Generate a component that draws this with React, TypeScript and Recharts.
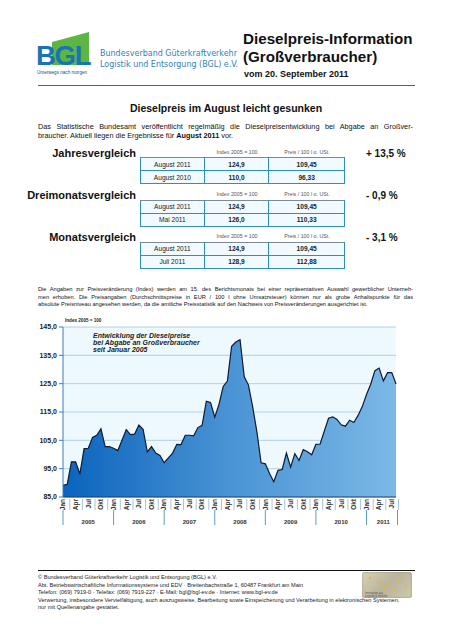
import { AreaChart, Area, XAxis, YAxis, CartesianGrid } from "recharts";

// Dieselpreis-Index (2005 = 100), monthly, Jan 2005 .. Aug 2011
const monthNames = ["Jan", "Feb", "Mär", "Apr", "Mai", "Jun", "Jul", "Aug", "Sep", "Okt", "Nov", "Dez"];
const years = [2005, 2006, 2007, 2008, 2009, 2010, 2011];
const idx2005 = [89.1, 89.5, 97.4, 97.4, 93.1, 102.1, 102.2, 106.0, 106.8, 109.1, 102.8, 102.8];
const idx2006 = [102.2, 101.4, 105.0, 108.8, 107.0, 107.2, 110.4, 108.9, 100.9, 102.8, 100.5, 99.7];
const idx2007 = [97.1, 98.8, 100.5, 103.6, 103.5, 106.8, 106.8, 106.6, 109.5, 110.3, 118.8, 118.4];
const idx2008 = [113.2, 117.7, 124.0, 125.9, 138.2, 139.7, 140.5, 127.4, 124.5, 116.8, 108.0, 97.1];
const idx2009 = [96.7, 93.3, 90.4, 94.4, 94.7, 100.5, 95.5, 100.3, 97.9, 101.7, 101.0, 99.9];
const idx2010 = [103.6, 103.7, 108.3, 112.8, 113.3, 112.4, 110.5, 110.0, 112.1, 111.3, 113.8, 116.9];
const idx2011 = [121.2, 124.8, 129.6, 130.5, 126.0, 128.9, 128.9, 124.9];
const yTicks = [85, 95, 105, 115, 125, 135, 145];

const allYears = [idx2005, idx2006, idx2007, idx2008, idx2009, idx2010, idx2011];

const data = allYears.flatMap((vals, y) =>
  vals.map((v, m) => ({ idx: y * 12 + m, year: years[y], month: m, label: monthNames[m], v }))
);

// tables
const compTitles = ["Jahresvergleich", "Dreimonatsvergleich", "Monatsvergleich"];
const compChanges = ["+ 13,5 %", "- 0,9 %", "- 3,1 %"];
const compRows = [
  [["August 2011", "124,9", "109,45"], ["August 2010", "110,0", "96,33"]],
  [["August 2011", "124,9", "109,45"], ["Mai 2011", "126,0", "110,33"]],
  [["August 2011", "124,9", "109,45"], ["Juli 2011", "128,9", "112,88"]],
];

const FONT = "'Liberation Sans', Arial, sans-serif";
const CHART_W = 452;
const CHART_H = 240;
const MARGIN = { top: 27, right: 56, bottom: 13, left: 0 };
const Y_W = 63;
const STEP = (CHART_W - MARGIN.right - MARGIN.left - Y_W) / (data.length - 1);

function MonthTick(props: any) {
  const { x, y, payload } = props;
  const d = data[payload.value];
  if (!d) return <g />;
  const yearCount = data.filter((p) => p.year === d.year).length;
  const isLast = payload.value === data.length - 1;
  return (
    <g>
      {d.month % 3 === 0 && (
        <>
          <text
            x={x + 2.3}
            y={y + 2}
            transform={`rotate(-90 ${x + 2.3} ${y + 2})`}
            textAnchor="end"
            fontSize={6.5}
            fontWeight="bold"
            fill="#333"
            fontFamily={FONT}
          >
            {d.label}
          </text>
          <line x1={x + STEP * 1.6} x2={x + STEP * 1.6} y1={y + 2} y2={y + 13} stroke="#8fb6d2" strokeWidth={0.8} />
        </>
      )}
      {d.month === 0 && (
        <line x1={x} x2={x} y1={y + 13} y2={y + 28} stroke="#4d8fc4" strokeWidth={0.9} />
      )}
      {isLast && (
        <line x1={x + 1.5} x2={x + 1.5} y1={y + 13} y2={y + 28} stroke="#4d8fc4" strokeWidth={0.9} />
      )}
      {d.month === Math.floor(yearCount / 2) && (
        <text x={x} y={y + 27} textAnchor="middle" fontSize={6} fontWeight="bold" fill="#333" fontFamily={FONT}>
          {d.year}
        </text>
      )}
    </g>
  );
}

function DieselChart() {
  return (
    <AreaChart width={CHART_W} height={CHART_H} data={data} margin={MARGIN}>
      <defs>
        <linearGradient id="areaFill" x1="0" y1="0" x2="1" y2="0">
          <stop offset="0%" stopColor="#0a64bd" />
          <stop offset="50%" stopColor="#4a93d4" />
          <stop offset="100%" stopColor="#7bb9e6" />
        </linearGradient>
      </defs>
      <CartesianGrid vertical={false} stroke="#a9cbe0" strokeWidth={0.9} fill="#eef9fe" />
      <XAxis
        dataKey="idx"
        type="category"
        interval={0}
        height={30}
        tickSize={0}
        tickMargin={0}
        tickLine={false}
        axisLine={{ stroke: "#1d3f6e", strokeWidth: 1 }}
        tick={<MonthTick />}
      />
      <YAxis
        width={Y_W}
        domain={[85, 145]}
        ticks={yTicks}
        allowDataOverflow
        tickSize={4}
        tickMargin={2}
        axisLine={{ stroke: "#3d7fb8" }}
        tickLine={{ stroke: "#3d7fb8" }}
        tickFormatter={(v: number) => v.toFixed(1).replace(".", ",")}
        tick={{ fontSize: 7, fontWeight: "bold", fill: "#222", fontFamily: FONT }}
      />
      <Area
        type="linear"
        dataKey="v"
        stroke="#0e1b33"
        strokeWidth={1.2}
        fill="url(#areaFill)"
        fillOpacity={1}
        baseValue={85}
        isAnimationActive={false}
        dot={false}
        activeDot={false}
      />
    </AreaChart>
  );
}

function T({ x, y, size, children, bold, italic, color, w, align, style }: any) {
  const lh = size * 1.2;
  return (
    <div
      style={{
        position: "absolute",
        left: x,
        top: y - lh / 2,
        width: w,
        fontSize: size,
        lineHeight: `${lh}px`,
        fontWeight: bold ? "bold" : "normal",
        fontStyle: italic ? "italic" : "normal",
        color: color ?? "#111",
        textAlign: align ?? "left",
        whiteSpace: "nowrap",
        ...style,
      }}
    >
      {children}
    </div>
  );
}

const justify = { textAlign: "justify", textAlignLast: "justify", whiteSpace: "normal" } as any;
const narrow = { fontFamily: "'Liberation Sans Narrow', 'DejaVu Sans Condensed', sans-serif" };

export default function App() {
  const tableTops = [157, 199.5, 241.5];
  const headY = [154, 196, 238];
  return (
    <div style={{ position: "relative", width: 452, height: 640, background: "#fff", fontFamily: FONT, overflow: "hidden" }}>
      <style>{`body{margin:0}`}</style>

      {/* logo */}
      <svg style={{ position: "absolute", left: 0, top: 0 }} width={230} height={85}>
        <polygon points="52,42 89,32 89,65 52,65" fill="#5db543" />
        <text x={36} y={65} fontSize={27.5} fontWeight="bold" fill="#1a73b8" fontFamily={FONT} letterSpacing={-1.3}>
          BGL
        </text>
        <text x={37} y={74} fontSize={4.6} fill="#1d4f7e" fontFamily={FONT}>
          Unterwegs nach morgen
        </text>
      </svg>
      <T x={100} y={53} size={8.9} color="#2f7fc1" style={narrow}>
        Bundesverband Güterkraftverkehr
      </T>
      <T x={100} y={64.5} size={8.9} color="#2f7fc1" style={narrow}>
        Logistik und Entsorgung (BGL) e.V.
      </T>

      <T x={243} y={39.5} size={15.2} bold>Dieselpreis-Information</T>
      <T x={243} y={57} size={15.2} bold>(Großverbraucher)</T>
      <T x={244} y={74} size={9} bold>vom 20. September 2011</T>
      <div style={{ position: "absolute", left: 38, top: 84.5, width: 377, height: 1.5, background: "#2b6e8c" }} />

      <T x={0} y={108} w={452} size={10.5} bold align="center">Dieselpreis im August leicht gesunken</T>
      <T x={38} y={127.5} w={375} size={7.3} style={justify}>
        Das Statistische Bundesamt veröffentlicht regelmäßig die Dieselpreisentwicklung bei Abgabe an Großver-
      </T>
      <T x={38} y={136.5} size={7.3}>
        braucher. Aktuell liegen die Ergebnisse für <b>August 2011</b> vor.
      </T>

      {compTitles.map((title, i) => (
        <div key={title}>
          <T x={0} y={headY[i]} w={136} size={11} bold align="right">{title}</T>
          <T x={204} y={headY[i] - 2} w={66} size={5.3} color="#555" align="center">Index 2005 = 100</T>
          <T x={269} y={headY[i] - 2} w={76} size={5.3} color="#555" align="center">Preis / 100 l o. USt.</T>
          <T x={366} y={headY[i]} size={10} bold>{compChanges[i]}</T>
          <table
            style={{
              position: "absolute",
              left: 140,
              top: tableTops[i],
              width: 205,
              borderCollapse: "collapse",
              background: "#f1fbff",
              fontSize: 6.6,
              color: "#222",
            }}
          >
            <colgroup>
              <col style={{ width: 64 }} />
              <col style={{ width: 65 }} />
              <col style={{ width: 76 }} />
            </colgroup>
            <tbody>
              {compRows[i].map((row, r) => (
                <tr key={r} style={{ height: 13 }}>
                  {row.map((c, k) => (
                    <td
                      key={k}
                      style={{
                        border: "1.3px solid #2f8cc4",
                        borderTop: r === 0 ? "1px solid #7a8a96" : "1.3px solid #2f8cc4",
                        borderLeft: k === 1 ? "1px solid #9ab4c8" : "1.3px solid #2f8cc4",
                        textAlign: "center",
                        padding: 0,
                        fontWeight: k > 0 ? "bold" : "normal",
                        lineHeight: "11px",
                      }}
                    >
                      {c}
                    </td>
                  ))}
                </tr>
              ))}
            </tbody>
          </table>
        </div>
      ))}

      <T x={38} y={289.5} w={375} size={5.7} style={justify}>
        Die Angaben zur Preisveränderung (Index) werden am 15. des Berichtsmonats bei einer repräsentativen Auswahl gewerblicher Unterneh-
      </T>
      <T x={38} y={297} w={375} size={5.7} style={justify}>
        men erhoben. Die Preisangaben (Durchschnittspreise in EUR / 100 l ohne Umsatzsteuer) können nur als grobe Anhaltspunkte für das
      </T>
      <T x={38} y={304.5} size={5.7}>
        absolute Preisniveau angesehen werden, da die amtliche Preisstatistik auf den Nachweis von Preisveränderungen ausgerichtet ist.
      </T>

      {/* chart */}
      <div style={{ position: "absolute", left: 0, top: 300 }}>
        <DieselChart />
      </div>
      <T x={65} y={321} size={4.6} bold color="#222">Index 2005 = 100</T>
      <T x={93} y={336} size={7} bold italic color="#222">Entwicklung der Dieselpreise</T>
      <T x={93} y={343} size={7} bold italic color="#222">bei Abgabe an Großverbraucher</T>
      <T x={93} y={350} size={7} bold italic color="#222">seit Januar 2005</T>

      {/* footer */}
      <div style={{ position: "absolute", left: 38, top: 569.5, width: 377, height: 1, background: "#111" }} />
      <T x={38} y={577.7} size={5.6} color="#222">© Bundesverband Güterkraftverkehr Logistik und Entsorgung (BGL) e.V.</T>
      <T x={38} y={585} size={5.6} color="#222">Abt. Betriebswirtschaftliche Informationssysteme und EDV · Breitenbachstraße 1, 60487 Frankfurt am Main</T>
      <T x={38} y={592.3} size={5.6} color="#222">Telefon: (069) 7919-0 · Telefax: (069) 7919-227 · E-Mail: bgl@bgl-ev.de · Internet: www.bgl-ev.de</T>
      <T x={38} y={600} size={5.6} color="#222">Verwertung, insbesondere Vervielfältigung, auch auszugsweise, Bearbeitung sowie Einspeicherung und Verarbeitung in elektronischen Systemen,</T>
      <T x={38} y={607.3} size={5.6} color="#222">nur mit Quellenangabe gestattet.</T>
      <div
        style={{
          position: "absolute",
          left: 362,
          top: 572,
          width: 50,
          height: 26,
          borderRadius: 3,
          background: "linear-gradient(135deg, #d8d2b6 0%, #b9b39c 50%, #cfc9ae 100%)",
          boxShadow: "inset 0 0 2px #8d8670",
        }}
      >
        <svg width={50} height={26}>
          {[[8, 6], [18, 10], [27, 12], [37, 8], [44, 14], [33, 19], [22, 17]].map(([cx, cy], i) => (
            <circle key={i} cx={cx} cy={cy} r={1.2} fill="#e0b840" />
          ))}
          <text x={3} y={22} fontSize={2.8} fill="#555" fontFamily={FONT}>Innovation aus</text>
          <text x={3} y={25} fontSize={2.8} fill="#555" fontFamily={FONT}>Logistik &amp; Verkehr</text>
        </svg>
      </div>
    </div>
  );
}
